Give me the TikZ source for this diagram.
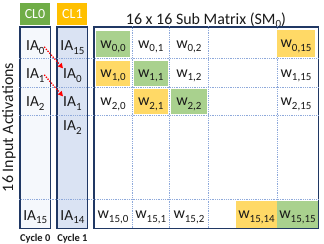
\documentclass[tikz,border=0pt]{standalone}
\usepackage{fontspec}
\setmainfont{Carlito}
\usepackage{tikz}
\usetikzlibrary{arrows.meta}
\definecolor{ink}{HTML}{1A1A1A}
\definecolor{frame}{HTML}{203864}
\definecolor{gridblue}{HTML}{8EA9DB}
\definecolor{cycbg}{HTML}{DAE3F3}
\definecolor{cycbgsoft}{HTML}{F5F8FC}
\definecolor{hitgreen}{HTML}{A9D18E}
\definecolor{hityellow}{HTML}{FFD966}
\definecolor{clgreen}{HTML}{70AD47}
\definecolor{clorange}{HTML}{FFC000}
\definecolor{shiftred}{HTML}{FF0000}
\newcommand{\lowsub}[1]{\raisebox{-3.5bp}{\fontsize{11}{11}\selectfont #1}}
\tikzset{
  clbox/.style={rectangle,text=white,font=\fontsize{14}{14}\selectfont,
    minimum width=30bp,minimum height=22bp,inner sep=0pt},
  cycbox/.style={rectangle,draw=frame,line width=1.4bp,
    minimum width=30.5bp,minimum height=201.5bp,inner sep=0pt},
  smframe/.style={rectangle,draw=frame,line width=1.4bp,
    minimum width=224.5bp,minimum height=201.5bp,inner sep=0pt},
  iatext/.style={anchor=base,inner sep=0pt,text=ink,font=\fontsize{15.5}{15.5}\selectfont},
  wcell/.style={rectangle,inner sep=0pt,text=ink,font=\fontsize{16}{16}\selectfont,
    text height=10bp,text depth=2bp,minimum width=34bp,minimum height=25.5bp},
  gridln/.style={densely dotted,line width=0.8bp,color=gridblue},
  shiftarr/.style={-{Triangle[length=5bp,width=5bp]},dash pattern=on 0pt off 2.6bp,
    line cap=round,line width=1.8bp,color=shiftred},
}

\begin{document}
\begin{tikzpicture}[x=1bp,y=-1bp]
  \useasboundingbox (0,0) rectangle (324,244);

  % headers
  \node[clbox,fill=clgreen] (cl0) at (35,14) {CL0};
  \node[clbox,fill=clorange] (cl1) at (72.4,14) {CL1};
  \node[anchor=base,text=ink,font=\fontsize{16}{16}\selectfont] (title) at (206,24)
    {16 x 16 Sub Matrix (SM\lowsub{0})};
  \node[rotate=90,text=ink,font=\fontsize{16}{16}\selectfont] (side) at (9,127.5)
    {16 Input Activations};

  % columns and matrix frame
  \node[cycbox,fill=cycbgsoft] (cyc0) at (35.3,127.75) {};
  \node[cycbox,fill=cycbg] (cyc1) at (72.4,127.75) {};
  \node[smframe] (sm) at (206.25,127.75) {};

  \draw[gridln] (cyc0.west |- 0,58.5) -- (sm.east |- 0,58.5);
  \draw[gridln] (cyc0.west |- 0,87) -- (sm.east |- 0,87);
  \draw[gridln] (cyc0.west |- 0,115) -- (sm.east |- 0,115);
  \draw[gridln] (cyc0.west |- 0,199) -- (sm.east |- 0,199);
  \draw[gridln] (sm.north -| 132,0) -- (sm.south -| 132,0);
  \draw[gridln] (sm.north -| 169.3,0) -- (sm.south -| 169.3,0);
  \draw[gridln] (sm.north -| 208.5,0) -- (sm.south -| 208.5,0);
  \draw[gridln] (sm.north -| 277,0) -- (sm.south -| 277,0);

  % input activations
  \node[iatext] (c0ia0) at (35.3,50.5) {IA\lowsub{0}};
  \node[iatext] (c0ia1) at (35.3,78.5) {IA\lowsub{1}};
  \node[iatext] (c0ia2) at (35.3,106.5) {IA\lowsub{2}};
  \node[iatext] (c0ia15) at (35.3,220) {IA\lowsub{15}};
  \node[iatext] (c1ia15) at (72.4,50.5) {IA\lowsub{15}};
  \node[iatext] (c1ia0) at (72.4,78.5) {IA\lowsub{0}};
  \node[iatext] (c1ia1) at (72.4,106.5) {IA\lowsub{1}};
  \node[iatext] (c1ia2) at (72.4,130.5) {IA\lowsub{2}};
  \node[iatext] (c1ia14) at (72.4,220) {IA\lowsub{14}};

  % weights
  \node[wcell,fill=hitgreen] (w00) at (113,44) {w\lowsub{0,0}};
  \node[wcell] (w01) at (150.7,44) {w\lowsub{0,1}};
  \node[wcell] (w02) at (188.9,44) {w\lowsub{0,2}};
  \node[wcell,fill=hityellow,minimum width=38bp,minimum height=26.5bp] (w015) at (296,43.5) {w\lowsub{0,15}};
  \node[wcell,fill=hityellow] (w10) at (113,73.3) {w\lowsub{1,0}};
  \node[wcell,fill=hitgreen] (w11) at (150.7,73.3) {w\lowsub{1,1}};
  \node[wcell] (w12) at (188.9,73.3) {w\lowsub{1,2}};
  \node[wcell] (w115) at (296,73.3) {w\lowsub{1,15}};
  \node[wcell] (w20) at (113,101.5) {w\lowsub{2,0}};
  \node[wcell,fill=hityellow] (w21) at (150.7,101.5) {w\lowsub{2,1}};
  \node[wcell,fill=hitgreen,minimum width=36bp] (w22) at (188.9,101.5) {w\lowsub{2,2}};
  \node[wcell] (w215) at (296,101.5) {w\lowsub{2,15}};
  \node[wcell,minimum height=27.5bp] (w150) at (113,214.5) {w\lowsub{15,0}};
  \node[wcell,minimum height=27.5bp] (w151) at (150.7,214.5) {w\lowsub{15,1}};
  \node[wcell,minimum height=27.5bp] (w152) at (188.9,214.5) {w\lowsub{15,2}};
  \node[wcell,fill=hityellow,minimum width=41bp,minimum height=27.5bp] (w1514) at (256.5,214.5) {w\lowsub{15,14}};
  \node[wcell,fill=hitgreen,minimum width=40.5bp,minimum height=27.5bp] (w1515) at (297.5,214.5) {w\lowsub{15,15}};

  \draw[shiftarr] (c0ia0.east) -- (c1ia0.north west);
  \draw[shiftarr] (c0ia1.east) -- (c1ia1.north west);

  \node[anchor=base,text=ink,font=\fontsize{10.5}{10.5}\selectfont\bfseries] (cyc0lbl) at (35.3,241.5) {Cycle 0};
  \node[anchor=base,text=ink,font=\fontsize{10.5}{10.5}\selectfont\bfseries] (cyc1lbl) at (72.4,241.5) {Cycle 1};
\end{tikzpicture}
\end{document}
